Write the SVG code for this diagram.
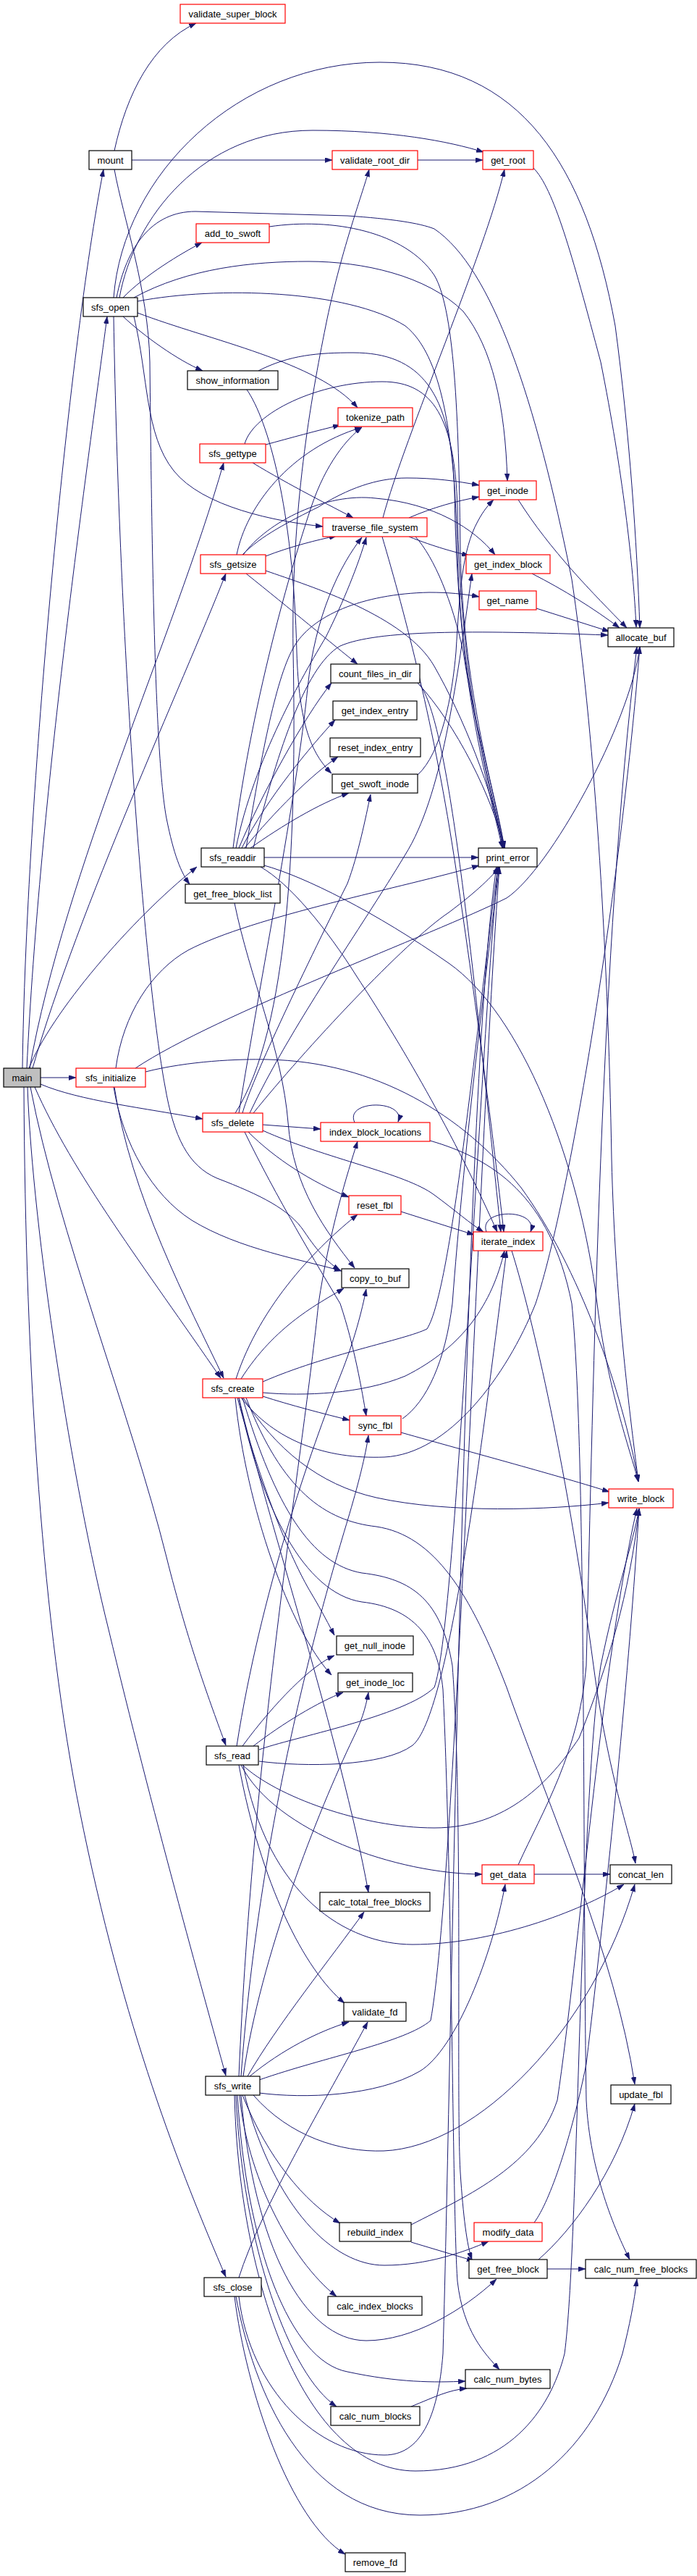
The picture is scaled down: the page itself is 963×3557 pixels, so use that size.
<svg xmlns="http://www.w3.org/2000/svg" width="963" height="3557" viewBox="0 0 963 3557">
<defs>
<style>
.node rect{fill:#ffffff;stroke:#000000;stroke-width:1.2}
.node.t rect{stroke:#ff0000}
.node.root rect{fill:#bfbfbf}
.node text{font-family:"Liberation Sans",Arial,sans-serif;font-size:13px;text-anchor:middle;fill:#000000}
.edges path{fill:none;stroke:#191970;stroke-width:1;marker-end:url(#ah)}
</style>
<marker id="ah" viewBox="0 0 10 7" refX="10" refY="3.5" markerWidth="10" markerHeight="7" markerUnits="userSpaceOnUse" orient="auto"><path d="M0,0L10,3.5L0,7z" fill="#191970" stroke="#191970" stroke-width="0.5"/></marker>
</defs>
<rect x="0" y="0" width="963" height="3557" fill="#ffffff"/>
<g class="edges" id="edges">
<path d="M31,1475 C36,1100 95,480 143,234"/>
<path d="M37,1475 C55,1100 120,650 148,437"/>
<path d="M41,1475 C90,1200 240,880 309,639"/>
<path d="M45,1475 C110,1250 250,950 312,792"/>
<path d="M40,1475 C70,1400 180,1270 272,1197"/>
<path d="M56,1488 L105,1488"/>
<path d="M56,1497 C110,1520 200,1530 280,1545"/>
<path d="M48,1501 C100,1620 200,1750 305,1903"/>
<path d="M42,1501 C80,1700 180,1950 230,2150 C260,2270 290,2350 312,2410"/>
<path d="M38,1501 C45,1700 100,2050 150,2250 C210,2500 280,2750 312,2866"/>
<path d="M33,1501 C35,1900 60,2250 110,2500 C170,2800 250,3000 312,3144"/>
<path d="M158,208 C175,130 210,60 271,32"/>
<path d="M182,221 L459,221"/>
<path d="M158,234 C170,300 205,400 207,500 C210,800 215,1050 230,1130 C240,1180 250,1205 262,1221"/>
<path d="M577,221 L667,221"/>
<path d="M170,411 C200,380 250,350 279,335"/>
<path d="M170,437 C200,465 245,497 280,512"/>
<path d="M190,432 C290,470 440,500 494,563"/>
<path d="M157,411 C170,240 330,86 525,86 C720,86 810,230 850,450 C870,600 880,750 884,867"/>
<path d="M165,411 C185,300 280,180 432,180 C540,180 620,195 668,210"/>
<path d="M161,411 C175,340 210,292 270,292 L480,298 C540,302 580,308 600,316 C680,370 740,550 790,800 C820,1000 840,1300 845,1600 C850,1800 870,1950 882,2046"/>
<path d="M185,411 C260,370 350,361 426,361 C500,361 590,380 640,430 C680,480 698,560 701,664"/>
<path d="M190,416 C300,395 480,400 560,450 C610,490 628,600 632,760 C636,950 678,1080 696,1171"/>
<path d="M185,437 C205,520 200,600 240,650 C280,700 380,720 446,727"/>
<path d="M157,437 C165,900 200,1350 228,1500 C240,1570 260,1610 300,1627 C360,1650 400,1670 420,1700 C440,1730 455,1745 470,1754"/>
<path d="M372,313 C460,300 560,320 600,380 C630,430 634,600 636,760 C640,950 680,1080 697,1171"/>
<path d="M338,613 C350,570 440,527 528,527 C600,527 628,580 632,700 C636,950 676,1080 695,1171"/>
<path d="M357,512 C400,490 440,487 488,487 C580,487 624,540 628,680 C632,950 674,1080 694,1171"/>
<path d="M341,538 C370,580 405,700 410,900 C413,1000 430,1040 458,1068"/>
<path d="M349,639 C400,670 460,700 488,715"/>
<path d="M367,614 C400,605 440,594 470,587"/>
<path d="M367,768 C400,755 440,745 465,740"/>
<path d="M336,766 C370,720 450,680 519,688 C600,695 655,730 684,766"/>
<path d="M335,766 C360,740 400,720 440,700 C480,675 520,660 562,660 C600,660 630,664 662,670"/>
<path d="M327,766 C340,700 400,620 500,590"/>
<path d="M340,792 C400,840 460,890 494,917"/>
<path d="M367,788 C430,810 560,850 600,920 C640,990 680,1090 696,1171"/>
<path d="M529,715 C560,600 670,350 697,234"/>
<path d="M565,715 C600,700 630,692 662,686"/>
<path d="M565,741 C600,755 630,763 648,767"/>
<path d="M574,741 C600,770 625,830 640,900 C655,1000 685,1100 697,1171"/>
<path d="M528,741 C560,850 600,1000 630,1200 C660,1400 685,1600 696,1701"/>
<path d="M716,690 C760,760 820,820 866,867"/>
<path d="M735,792 C780,815 820,840 856,867"/>
<path d="M741,840 L842,872"/>
<path d="M737,232 C765,260 790,350 830,500 C860,650 875,780 879,866"/>
<path d="M577,943 C630,1000 680,1100 697,1171"/>
<path d="M580,945 C620,1000 650,1300 692,1701"/>
<path d="M577,1070 C610,1040 625,960 630,900 C635,820 638,760 660,720 C668,705 675,697 682,690"/>
<path d="M330,1171 C360,1100 420,990 458,943"/>
<path d="M334,1171 C370,1100 430,1030 463,994"/>
<path d="M338,1171 C380,1120 430,1070 467,1045"/>
<path d="M346,1171 C390,1140 440,1110 482,1095"/>
<path d="M365,1184 L661,1184"/>
<path d="M326,1171 C350,1050 420,930 450,880 C475,830 495,780 506,742"/>
<path d="M322,1171 C350,950 410,760 430,700 C450,640 480,605 500,590"/>
<path d="M365,1195 C420,1210 520,1260 620,1330 C720,1400 800,1600 825,1800 C840,1920 870,2000 882,2046"/>
<path d="M360,1197 C400,1220 450,1280 494,1350 C540,1420 620,1550 687,1701"/>
<path d="M340,1171 C360,1050 380,940 405,895 C430,850 500,820 593,818 C620,818 640,820 662,824"/>
<path d="M350,1171 C380,1050 420,920 470,892 C520,870 650,870 840,877"/>
<path d="M324,1247 C345,1350 390,1450 398,1550 C405,1640 450,1700 490,1751"/>
<path d="M160,1475 C170,1400 210,1340 260,1312 C350,1265 560,1225 662,1195"/>
<path d="M187,1475 C300,1400 600,1290 700,1240 C760,1200 870,1000 884,893"/>
<path d="M201,1480 C260,1465 330,1462 370,1463 C520,1466 640,1540 720,1640 C800,1750 860,1920 882,2046"/>
<path d="M158,1501 C180,1650 260,1800 309,1903"/>
<path d="M157,1501 C170,1580 210,1650 265,1685 C330,1725 420,1740 472,1755"/>
<path d="M363,1553 L443,1559"/>
<path d="M490,1550 C475,1518 562,1518 550,1549"/>
<path d="M343,1563 C380,1600 430,1632 482,1653"/>
<path d="M363,1561 C450,1600 560,1620 600,1650 C630,1672 650,1690 668,1701"/>
<path d="M338,1563 C380,1650 440,1750 470,1800 C490,1860 500,1920 506,1955"/>
<path d="M330,1537 C360,1350 410,1100 425,950 C435,850 470,780 500,742"/>
<path d="M335,1537 C345,1500 400,1380 480,1220 C495,1180 505,1130 512,1097"/>
<path d="M345,1537 C400,1420 500,1280 560,1180 C610,1100 630,950 652,792"/>
<path d="M350,1537 C420,1450 560,1300 620,1260 C660,1230 680,1210 690,1197"/>
<path d="M325,1537 C400,1420 410,1150 405,900 C402,700 430,550 450,450 C470,350 500,270 510,234"/>
<path d="M594,1575 C680,1600 760,1650 790,1800 C810,2000 805,2600 810,2900 C815,3000 850,3080 870,3120"/>
<path d="M554,1673 L655,1705"/>
<path d="M672,1701 C660,1668 745,1668 733,1701"/>
<path d="M707,1727 C730,1800 780,2000 820,2300 C840,2450 870,2530 878,2573"/>
<path d="M363,1928 C400,1940 450,1953 483,1961"/>
<path d="M336,1930 C380,2000 440,2050 520,2068 C620,2090 760,2085 841,2075"/>
<path d="M363,1908 C450,1870 560,1850 590,1835 C625,1780 660,1400 688,1197"/>
<path d="M363,1923 C420,1928 500,1925 560,1900 C640,1860 680,1800 697,1727"/>
<path d="M333,1904 C380,1830 440,1800 475,1779"/>
<path d="M326,1904 C360,1800 440,1720 494,1677"/>
<path d="M333,1930 C380,1990 450,2015 531,2012 C620,2008 700,1900 740,1800 C790,1650 860,1200 884,893"/>
<path d="M328,1930 C360,2050 400,2150 430,2200 C445,2225 455,2245 462,2258"/>
<path d="M325,1930 C340,2080 400,2250 458,2313"/>
<path d="M330,1930 C370,2100 470,2400 509,2613"/>
<path d="M335,1930 C380,2080 430,2160 500,2172 C570,2180 610,2210 625,2300 C640,2500 630,2900 636,3000 C640,3060 645,3100 652,3120"/>
<path d="M340,1930 C390,2060 450,2100 520,2108 C600,2120 650,2200 700,2330 C760,2500 850,2700 877,2878"/>
<path d="M330,1930 C360,2080 420,2200 500,2212 C570,2220 605,2260 612,2333 C625,2600 625,3050 632,3150 C640,3220 670,3250 690,3272"/>
<path d="M554,1978 C650,2005 780,2040 842,2060"/>
<path d="M556,1959 C590,1935 615,1880 625,1800 C640,1600 670,1350 690,1197"/>
<path d="M335,2411 C380,2350 430,2300 462,2286"/>
<path d="M350,2411 C390,2380 440,2350 474,2337"/>
<path d="M333,2437 C380,2530 550,2588 666,2588"/>
<path d="M336,2437 C370,2620 480,2685 570,2685 C680,2685 800,2640 862,2602"/>
<path d="M330,2437 C360,2600 420,2720 476,2766"/>
<path d="M358,2416 C400,2400 560,2370 600,2330 C630,2250 660,1500 688,1197"/>
<path d="M358,2432 C420,2440 530,2440 570,2410 C620,2370 665,2000 700,1727"/>
<path d="M335,2437 C380,2480 500,2524 600,2524 C700,2524 760,2460 800,2400 C840,2300 870,2200 883,2083"/>
<path d="M327,2411 C360,2200 430,2000 470,1900 C490,1850 500,1810 506,1780"/>
<path d="M738,2588 L843,2588"/>
<path d="M716,2575 C750,2500 800,2420 810,2300 C820,1900 830,1300 880,893"/>
<path d="M345,2867 C390,2830 440,2805 482,2792"/>
<path d="M335,2893 C370,2980 420,3040 470,3070"/>
<path d="M338,2893 C380,3050 460,3128 531,3128 C590,3128 640,3110 675,3095"/>
<path d="M333,2893 C350,3100 420,3232 506,3232 C570,3232 640,3190 686,3147"/>
<path d="M331,2893 C340,3000 400,3120 465,3171"/>
<path d="M328,2893 C340,3100 400,3260 480,3275 C550,3290 600,3290 643,3288"/>
<path d="M326,2893 C335,3100 400,3280 465,3323"/>
<path d="M324,2893 C330,3150 420,3412 574,3412 C700,3412 760,3330 780,3250 C800,3100 800,2500 830,2300 C850,2200 875,2130 883,2083"/>
<path d="M358,2872 C450,2840 560,2820 595,2790 C630,2600 660,1600 690,1197"/>
<path d="M358,2890 C420,2898 520,2895 580,2860 C630,2830 680,2700 698,2602"/>
<path d="M350,2893 C400,2950 470,2972 530,2970 C660,2965 820,2800 877,2602"/>
<path d="M342,2867 C380,2800 460,2700 503,2640"/>
<path d="M336,2867 C360,2700 440,2500 488,2400 C498,2380 505,2360 509,2337"/>
<path d="M333,2867 C360,2500 450,2200 480,2100 C495,2050 505,2010 509,1982"/>
<path d="M330,2867 C350,2400 420,2000 440,1800 C455,1700 480,1620 494,1576"/>
<path d="M330,3145 C360,3050 450,2900 508,2792"/>
<path d="M324,3171 C340,3300 400,3480 477,3527"/>
<path d="M330,3171 C345,3300 440,3390 531,3390 C580,3390 605,3340 612,3250 C625,2800 640,1500 686,1197"/>
<path d="M326,3171 C350,3300 420,3473 580,3473 C720,3473 820,3380 860,3250 C870,3210 876,3180 880,3147"/>
<path d="M568,3096 L655,3122"/>
<path d="M568,3072 C650,3030 740,2990 770,2900 C800,2700 830,2300 880,2083"/>
<path d="M738,3069 C760,3040 790,2950 810,2850 C840,2600 870,2300 883,2083"/>
<path d="M756,3133 L809,3133"/>
<path d="M744,3120 C790,3080 850,3000 877,2905"/>
<path d="M568,3323 C600,3310 620,3300 645,3298"/>
</g>
<g id="n_validate_super_block" class="node t"><rect x="249" y="6" width="145" height="26"/><text x="321.5" y="23.5">validate_super_block</text></g>
<g id="n_mount" class="node"><rect x="123" y="208" width="59" height="26"/><text x="152.5" y="225.5">mount</text></g>
<g id="n_validate_root_dir" class="node t"><rect x="459" y="208" width="118" height="26"/><text x="518" y="225.5">validate_root_dir</text></g>
<g id="n_get_root" class="node t"><rect x="667" y="208" width="70" height="26"/><text x="702" y="225.5">get_root</text></g>
<g id="n_add_to_swoft" class="node t"><rect x="271" y="309" width="101" height="26"/><text x="321.5" y="326.5">add_to_swoft</text></g>
<g id="n_sfs_open" class="node"><rect x="115" y="411" width="75" height="26"/><text x="152.5" y="428.5">sfs_open</text></g>
<g id="n_show_information" class="node"><rect x="259" y="512" width="125" height="26"/><text x="321.5" y="529.5">show_information</text></g>
<g id="n_tokenize_path" class="node t"><rect x="467" y="563" width="103" height="26"/><text x="518.5" y="580.5">tokenize_path</text></g>
<g id="n_sfs_gettype" class="node t"><rect x="276" y="613" width="91" height="26"/><text x="321.5" y="630.5">sfs_gettype</text></g>
<g id="n_get_inode" class="node t"><rect x="662" y="664" width="79" height="26"/><text x="701.5" y="681.5">get_inode</text></g>
<g id="n_traverse_file_system" class="node t"><rect x="446" y="715" width="144" height="26"/><text x="518" y="732.5">traverse_file_system</text></g>
<g id="n_sfs_getsize" class="node t"><rect x="277" y="766" width="90" height="26"/><text x="322" y="783.5">sfs_getsize</text></g>
<g id="n_get_index_block" class="node t"><rect x="644" y="766" width="116" height="26"/><text x="702" y="783.5">get_index_block</text></g>
<g id="n_get_name" class="node t"><rect x="662" y="816" width="79" height="26"/><text x="701.5" y="833.5">get_name</text></g>
<g id="n_allocate_buf" class="node"><rect x="840" y="867" width="91" height="26"/><text x="885.5" y="884.5">allocate_buf</text></g>
<g id="n_count_files_in_dir" class="node"><rect x="457" y="917" width="123" height="26"/><text x="518.5" y="934.5">count_files_in_dir</text></g>
<g id="n_get_index_entry" class="node"><rect x="460" y="968" width="116" height="26"/><text x="518" y="985.5">get_index_entry</text></g>
<g id="n_reset_index_entry" class="node"><rect x="456" y="1019" width="125" height="26"/><text x="518.5" y="1036.5">reset_index_entry</text></g>
<g id="n_get_swoft_inode" class="node"><rect x="459" y="1069" width="118" height="26"/><text x="518" y="1086.5">get_swoft_inode</text></g>
<g id="n_sfs_readdir" class="node"><rect x="278" y="1171" width="87" height="26"/><text x="321.5" y="1188.5">sfs_readdir</text></g>
<g id="n_print_error" class="node"><rect x="661" y="1171" width="81" height="26"/><text x="701.5" y="1188.5">print_error</text></g>
<g id="n_get_free_block_list" class="node"><rect x="256" y="1221" width="131" height="26"/><text x="321.5" y="1238.5">get_free_block_list</text></g>
<g id="n_main" class="node root"><rect x="5" y="1475" width="51" height="26"/><text x="30.5" y="1492.5">main</text></g>
<g id="n_sfs_initialize" class="node t"><rect x="105" y="1475" width="96" height="26"/><text x="153" y="1492.5">sfs_initialize</text></g>
<g id="n_sfs_delete" class="node t"><rect x="280" y="1537" width="83" height="26"/><text x="321.5" y="1554.5">sfs_delete</text></g>
<g id="n_index_block_locations" class="node t"><rect x="443" y="1550" width="151" height="26"/><text x="518.5" y="1567.5">index_block_locations</text></g>
<g id="n_reset_fbl" class="node t"><rect x="482" y="1651" width="72" height="26"/><text x="518" y="1668.5">reset_fbl</text></g>
<g id="n_iterate_index" class="node t"><rect x="654" y="1701" width="96" height="26"/><text x="702" y="1718.5">iterate_index</text></g>
<g id="n_copy_to_buf" class="node"><rect x="472" y="1752" width="93" height="26"/><text x="518.5" y="1769.5">copy_to_buf</text></g>
<g id="n_sfs_create" class="node t"><rect x="280" y="1904" width="83" height="26"/><text x="321.5" y="1921.5">sfs_create</text></g>
<g id="n_sync_fbl" class="node t"><rect x="483" y="1955" width="71" height="26"/><text x="518.5" y="1972.5">sync_fbl</text></g>
<g id="n_write_block" class="node t"><rect x="841" y="2056" width="89" height="26"/><text x="885.5" y="2073.5">write_block</text></g>
<g id="n_get_null_inode" class="node"><rect x="465" y="2259" width="106" height="26"/><text x="518" y="2276.5">get_null_inode</text></g>
<g id="n_get_inode_loc" class="node"><rect x="467" y="2310" width="103" height="26"/><text x="518.5" y="2327.5">get_inode_loc</text></g>
<g id="n_sfs_read" class="node"><rect x="285" y="2411" width="72" height="26"/><text x="321" y="2428.5">sfs_read</text></g>
<g id="n_get_data" class="node t"><rect x="666" y="2575" width="72" height="26"/><text x="702" y="2592.5">get_data</text></g>
<g id="n_concat_len" class="node"><rect x="843" y="2575" width="85" height="26"/><text x="885.5" y="2592.5">concat_len</text></g>
<g id="n_calc_total_free_blocks" class="node"><rect x="442" y="2613" width="152" height="26"/><text x="518" y="2630.5">calc_total_free_blocks</text></g>
<g id="n_validate_fd" class="node"><rect x="475" y="2765" width="86" height="26"/><text x="518" y="2782.5">validate_fd</text></g>
<g id="n_sfs_write" class="node"><rect x="284" y="2867" width="75" height="26"/><text x="321.5" y="2884.5">sfs_write</text></g>
<g id="n_update_fbl" class="node"><rect x="844" y="2879" width="83" height="26"/><text x="885.5" y="2896.5">update_fbl</text></g>
<g id="n_rebuild_index" class="node"><rect x="469" y="3069" width="99" height="26"/><text x="518.5" y="3086.5">rebuild_index</text></g>
<g id="n_modify_data" class="node t"><rect x="655" y="3069" width="94" height="26"/><text x="702" y="3086.5">modify_data</text></g>
<g id="n_get_free_block" class="node"><rect x="648" y="3120" width="108" height="26"/><text x="702" y="3137.5">get_free_block</text></g>
<g id="n_calc_num_free_blocks" class="node"><rect x="809" y="3120" width="153" height="26"/><text x="885.5" y="3137.5">calc_num_free_blocks</text></g>
<g id="n_sfs_close" class="node"><rect x="282" y="3145" width="79" height="26"/><text x="321.5" y="3162.5">sfs_close</text></g>
<g id="n_calc_index_blocks" class="node"><rect x="453" y="3171" width="130" height="26"/><text x="518" y="3188.5">calc_index_blocks</text></g>
<g id="n_calc_num_bytes" class="node"><rect x="643" y="3272" width="117" height="26"/><text x="701.5" y="3289.5">calc_num_bytes</text></g>
<g id="n_calc_num_blocks" class="node"><rect x="457" y="3323" width="123" height="26"/><text x="518.5" y="3340.5">calc_num_blocks</text></g>
<g id="n_remove_fd" class="node"><rect x="477" y="3525" width="83" height="26"/><text x="518.5" y="3542.5">remove_fd</text></g>
</svg>
